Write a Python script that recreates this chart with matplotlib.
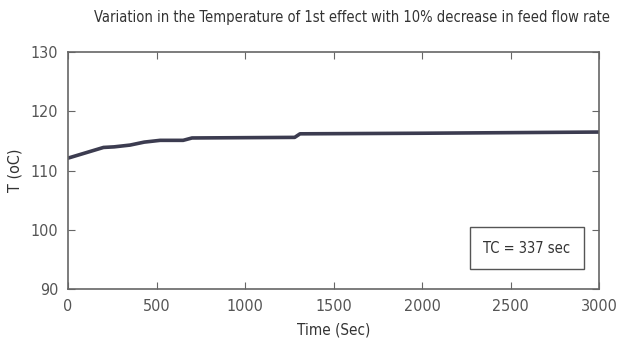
import matplotlib
matplotlib.use("Agg")
import matplotlib.pyplot as plt

time_s = [0, 100, 200, 260, 350, 430, 520, 650, 700, 1280, 1310, 2000, 3000]
temp_c = [112.1, 113.0, 113.9, 114.0, 114.3, 114.8, 115.1, 115.1, 115.5, 115.6, 116.2, 116.3, 116.5]
x_ticks = [0, 500, 1000, 1500, 2000, 2500, 3000]
y_ticks = [90, 100, 110, 120, 130]
title = "Variation in the Temperature of 1st effect with 10% decrease in feed flow rate"
legend_text = "TC = 337 sec"

plt.rcParams['font.family'] = ['DejaVu Sans']
plt.rcParams['font.stretch'] = 'condensed'

fig = plt.figure(figsize=(6.19, 3.52), dpi=100)
ax = fig.add_axes([0.110, 0.179, 0.858, 0.673])
ax.plot(time_s, temp_c, color='#3c3c50', lw=2.6)
ax.set_xlim(0, 3000)
ax.set_ylim(90, 130)
ax.set_xticks(x_ticks)
ax.set_yticks(y_ticks)
axc = '#666666'
for s in ax.spines.values():
    s.set_color(axc)
    s.set_linewidth(1.2)
ax.tick_params(direction='in', top=True, right=True, colors=axc, labelcolor='#555555',
               labelsize=11.5, length=5, pad=7)
ax.set_xlabel("Time (Sec)", fontsize=11, color='#333333', labelpad=6)
ax.set_ylabel("T (oC)", fontsize=11.5, color='#333333', labelpad=6)
ax.set_title(title, fontsize=10.5, color='#333333', pad=22, x=0.535)
ax.text(0.864, 0.173, legend_text, transform=ax.transAxes, ha='center', va='center',
        fontsize=10.5, color='#333333',
        bbox=dict(boxstyle='square,pad=0.95', fc='white', ec='#555555', lw=1.0))
fig.savefig("out.png", dpi=100)
